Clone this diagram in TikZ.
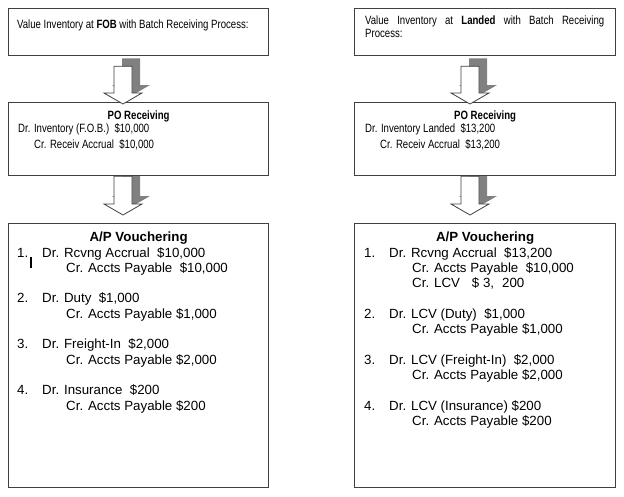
\documentclass[tikz,border=0pt]{standalone}
\usepackage{fontspec}
\setmainfont{Liberation Sans}
\newfontfamily\narrowsans[FakeStretch=0.8]{Liberation Sans}
\usetikzlibrary{calc,backgrounds}
\definecolor{boxgray}{RGB}{64,64,64}
\definecolor{shadegray}{RGB}{128,128,128}
\tikzset{
  box/.style={draw=boxgray, fill=white, line width=1.3pt, inner sep=0pt, anchor=north west},
  headtext/.style={font=\narrowsans\fontsize{12}{13}\selectfont, inner sep=0pt},
  notetext/.style={font=\narrowsans\fontsize{12}{13}\selectfont, inner sep=0pt},
  posttext/.style={font=\fontsize{13.3}{15.3}\selectfont, inner sep=0pt, align=left, anchor=north west},
  arrowbody/.style={draw=boxgray, fill=white, line width=0.8pt, line join=miter},
  arrowshade/.style={fill=shadegray}
}
\newcommand{\blockarrow}[2]{%
  \begin{pgfonlayer}{background}
    \fill[arrowshade] ($(#1)+(-1,8)$) -- ($(#1)+(17,8)$) -- ($(#2)+(17,19)$) -- ($(#2)+(27,19)$)
      -- ($(#2)+(8,8)$) -- ($(#2)+(-11,19)$) -- ($(#2)+(-1,19)$) -- cycle;
  \end{pgfonlayer}
  \filldraw[arrowbody] ($(#1)+(-9,0)$) -- ($(#1)+(9,0)$) -- ($(#2)+(9,11)$) -- ($(#2)+(19,11)$)
    -- (#2) -- ($(#2)+(-19,11)$) -- ($(#2)+(-9,11)$) -- cycle;
}

\begin{document}
\begin{tikzpicture}[x=1pt,y=1pt]
\useasboundingbox (0,0) rectangle (624,-496);
% FOB column
\node[box, minimum width=260pt, minimum height=47pt] (fobnote) at (8,-8) {};
\node[box, minimum width=260pt, minimum height=73pt] (fobpo) at (8,-102) {};
\node[box, minimum width=260pt, minimum height=264pt] (fobap) at (8,-223) {};
% Landed column
\node[box, minimum width=261pt, minimum height=47pt] (lndnote) at (354,-8) {};
\node[box, minimum width=261pt, minimum height=73pt] (lndpo) at (354,-102) {};
\node[box, minimum width=261pt, minimum height=264pt] (lndap) at (354,-223) {};

\coordinate (fobtop1) at ([shift={(115,-10)}]fobnote.south west);
\coordinate (fobtip1) at ([shift={(115,-2)}]fobpo.north west);
\coordinate (fobtop2) at ([xshift=115]fobpo.south west);
\coordinate (fobtip2) at ([shift={(115,8)}]fobap.north west);
\coordinate (lndtop1) at ([shift={(116,-10)}]lndnote.south west);
\coordinate (lndtip1) at ([shift={(116,-2)}]lndpo.north west);
\coordinate (lndtop2) at ([xshift=116]lndpo.south west);
\coordinate (lndtip2) at ([shift={(116,8)}]lndap.north west);
\blockarrow{fobtop1}{fobtip1}
\blockarrow{fobtop2}{fobtip2}
\blockarrow{lndtop1}{lndtip1}
\blockarrow{lndtop2}{lndtip2}

\node[notetext, anchor=base west] (fobnotetext) at ([shift={(9,-20)}]fobnote.north west)
  {Value Inventory at \textbf{FOB} with Batch Receiving Process:};
\node[notetext, anchor=north west, text width=239pt, align=justify] (lndnotetext) at ([shift={(11,-8)}]lndnote.north west)
  {Value Inventory at \textbf{Landed} with Batch Receiving\linebreak Process:};

\node[headtext, anchor=base] (fobpohead) at ([yshift=-17]fobpo.north) {\textbf{PO Receiving}};
\node[headtext, anchor=north west, align=left, font=\narrowsans\fontsize{12}{16}\selectfont] (fobpotext) at ([shift={(10,-21)}]fobpo.north west)
  {Dr. Inventory (F.O.B.)\ \ \$10,000\\
   \hspace*{16pt}Cr. Receiv Accrual\ \ \$10,000};
\node[headtext, anchor=base] (lndpohead) at ([yshift=-17]lndpo.north) {\textbf{PO Receiving}};
\node[headtext, anchor=north west, align=left, font=\narrowsans\fontsize{12}{16}\selectfont] (lndpotext) at ([shift={(11,-21)}]lndpo.north west)
  {Dr. Inventory Landed\ \ \$13,200\\
   \hspace*{15pt}Cr. Receiv Accrual\ \ \$13,200};

\node[font=\bfseries\fontsize{13.3}{15.3}\selectfont, inner sep=0pt, anchor=base] (fobaphead) at ([yshift=-18]fobap.north) {A/P Vouchering};
\node[posttext] (fobaptext) at ([shift={(9,-24)}]fobap.north west)
  {\makebox[25pt][l]{1.}Dr. Rcvng Accrual\ \ \$10,000\\
   \hspace*{49pt}Cr. Accts Payable\ \ \$10,000\\[15.3pt]
   \makebox[25pt][l]{2.}Dr. Duty\ \ \$1,000\\
   \hspace*{49pt}Cr. Accts Payable \$1,000\\[15.3pt]
   \makebox[25pt][l]{3.}Dr. Freight-In\ \ \$2,000\\
   \hspace*{49pt}Cr. Accts Payable \$2,000\\[15.3pt]
   \makebox[25pt][l]{4.}Dr. Insurance\ \ \$200\\
   \hspace*{49pt}Cr. Accts Payable \$200};
\draw[line width=1.4pt] ([shift={(23,-34)}]fobap.north west) -- ++(0,-11);

\node[font=\bfseries\fontsize{13.3}{15.3}\selectfont, inner sep=0pt, anchor=base] (lndaphead) at ([yshift=-18]lndap.north) {A/P Vouchering};
\node[posttext] (lndaptext) at ([shift={(10,-24)}]lndap.north west)
  {\makebox[25pt][l]{1.}Dr. Rcvng Accrual\ \ \$13,200\\
   \hspace*{48pt}Cr. Accts Payable\ \ \$10,000\\
   \hspace*{48pt}Cr. LCV\hspace{12pt}\$ 3,\hspace{8pt}200\\[15.3pt]
   \makebox[25pt][l]{2.}Dr. LCV (Duty)\ \ \$1,000\\
   \hspace*{48pt}Cr. Accts Payable \$1,000\\[15.3pt]
   \makebox[25pt][l]{3.}Dr. LCV (Freight-In)\ \ \$2,000\\
   \hspace*{48pt}Cr. Accts Payable \$2,000\\[15.3pt]
   \makebox[25pt][l]{4.}Dr. LCV (Insurance) \$200\\
   \hspace*{48pt}Cr. Accts Payable \$200};
\end{tikzpicture}
\end{document}
